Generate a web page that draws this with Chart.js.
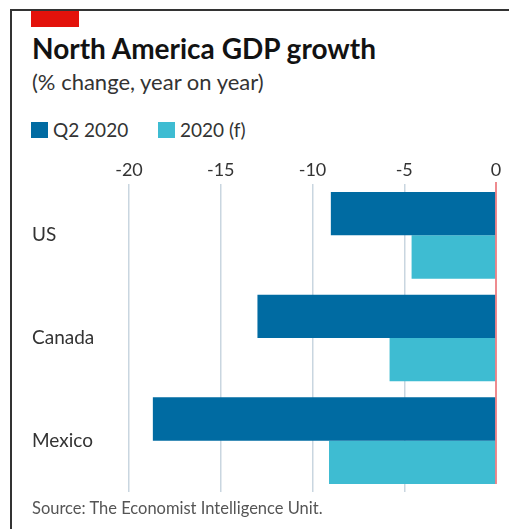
<!DOCTYPE html>
<html lang="en">

<head>
    <meta charset="UTF-8">
    <title>North America GDP growth</title>
    <script src="https://cdn.jsdelivr.net/npm/chart.js@4"></script>
</head>
<style>
    body {
        margin: 0;
        background: #fff;
        font-family: Lato, sans-serif;
    }

    .frame {
        position: absolute;
        left: 10px;
        top: 9px;
        width: 499px;
        height: 520px;
        border-left: 2px solid #333;
        border-top: 2px solid #333;
    }

    .redbox {
        position: absolute;
        left: 31px;
        top: 11px;
        width: 48px;
        height: 16px;
        background: #e3120b;
    }

    .title {
        position: absolute;
        left: 32px;
        top: 31px;
        font-size: 28px;
        font-weight: bold;
        color: #121212;
    }

    .sub {
        position: absolute;
        left: 32px;
        top: 68px;
        font-size: 22px;
        color: #333;
    }

    .legend {
        position: absolute;
        top: 118px;
        font-size: 19px;
        color: #333;
    }

    .legend span {
        display: inline-block;
        width: 17px;
        height: 16px;
        vertical-align: -1px;
        margin-right: 5px;
    }

    .source {
        position: absolute;
        left: 32px;
        top: 498px;
        font-size: 16.5px;
        color: #555;
        z-index: 2;
    }

    #box {
        position: absolute;
        left: 0;
        top: 150px;
        width: 509px;
        height: 379px;
    }
</style>

<body>
    <div class="frame"></div>
    <div class="redbox"></div>
    <div class="title">North America GDP growth</div>
    <div class="sub">(% change, year on year)</div>
    <div id="lg1" class="legend" style="left:31px"><span></span>Q2 2020</div>
    <div id="lg2" class="legend" style="left:158px"><span></span>2020 (f)</div>
    <div id="box"><canvas id="mychart"></canvas></div>
    <div class="source">Source: The Economist Intelligence Unit.</div>

    <script>
        // data
        const countries = ["US", "Canada", "Mexico"]
        const q2_2020 = [-9.0, -13.0, -18.7]
        const y2020f = [-4.6, -5.8, -9.1]
        const xticks = [-20, -15, -10, -5, 0]

        const dark = "#006ba2"
        const light = "#3ebcd2"
        document.querySelector('#lg1 span').style.background = dark
        document.querySelector('#lg2 span').style.background = light

        // red zero line on top of the bars
        const zeroLine = {
            id: 'zeroLine',
            afterDatasetsDraw(chart) {
                const ctx = chart.ctx
                const x = chart.scales.x.getPixelForValue(0)
                ctx.save()
                ctx.strokeStyle = "#e8646a"
                ctx.lineWidth = 1.5
                ctx.beginPath()
                ctx.moveTo(x, chart.chartArea.top - 2)
                ctx.lineTo(x, chart.chartArea.bottom - 8)
                ctx.stroke()
                ctx.restore()
            }
        }

        var myChart = new Chart(document.getElementById('mychart'), {
            type: 'bar',
            data: {
                labels: countries,
                datasets: [{
                    label: "Q2 2020",
                    data: q2_2020,
                    backgroundColor: dark,
                    borderWidth: 0
                }, {
                    label: "2020 (f)",
                    data: y2020f,
                    backgroundColor: light,
                    borderWidth: 0
                }]
            },
            options: {
                indexAxis: 'y',
                responsive: true,
                maintainAspectRatio: false,
                animation: false,
                categoryPercentage: 0.844,
                barPercentage: 1,
                layout: {
                    padding: { left: 32, right: 13, top: 0, bottom: 37 }
                },
                plugins: {
                    legend: { display: false },
                    tooltip: { enabled: false }
                },
                scales: {
                    x: {
                        position: 'top',
                        min: -20,
                        max: 0,
                        afterBuildTicks: function (axis) {
                            axis.ticks = xticks.map(v => ({ value: v }))
                        },
                        afterFit: function (axis) {
                            axis.height = 34
                        },
                        grid: {
                            drawTicks: false,
                            color: function (c) {
                                return c.tick && c.tick.value === 0 ? 'rgba(0,0,0,0)' : '#c9d6e0'
                            },
                            lineWidth: 1.5
                        },
                        border: { display: false },
                        ticks: {
                            padding: 3,
                            color: '#333',
                            font: { family: 'Lato', size: 18 }
                        }
                    },
                    y: {
                        afterFit: function (axis) {
                            axis.width = 97
                        },
                        grid: { display: false },
                        border: { display: false },
                        ticks: {
                            crossAlign: 'far',
                            color: '#333',
                            font: { family: 'Lato', size: 19 }
                        }
                    }
                }
            },
            plugins: [zeroLine]
        });
    </script>
</body>

</html>
